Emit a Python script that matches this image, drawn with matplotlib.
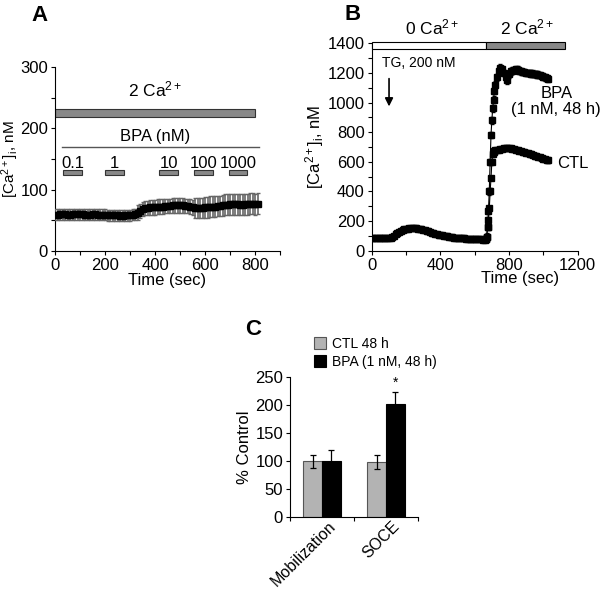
import numpy as np
import matplotlib
matplotlib.use("Agg")
import matplotlib.pyplot as plt
import matplotlib.transforms as mtransforms
from matplotlib.ticker import MultipleLocator, FixedLocator, NullFormatter

plt.rcParams["font.family"] = ["Liberation Sans", "DejaVu Sans"]
plt.rcParams["mathtext.fontset"] = "custom"
plt.rcParams["mathtext.rm"] = "Liberation Sans"
plt.rcParams["mathtext.it"] = "Liberation Sans:italic"

# ---- Panel A: BPA acute addition in 2 mM Ca ----
a_time = list(range(0, 820, 10))
a_mean = [59, 59, 60, 60, 60, 59, 59, 60, 60, 60,
          60, 60, 59, 59, 59, 60, 60, 59, 59, 59,
          59, 58, 58, 58, 58, 58, 57, 57, 58, 58,
          58, 59, 60, 62, 65, 68, 70, 70, 71, 71, 71,
          72, 72, 72, 73, 73, 73, 74, 74, 74, 74, 74, 73, 73, 72, 71,
          70, 70, 70, 70, 71, 71, 72, 72, 72, 73, 73, 74, 75,
          75, 76, 76, 76, 76, 75, 75, 76, 76, 77, 77, 76, 77]
a_err = [9] * 33 + [12] * 23 + [17] * 26
bpa_doses = ["0.1", "1", "10", "100", "1000"]
bpa_start = [33, 200, 417, 556, 695]
bpa_end = [107, 276, 493, 631, 769]

# ---- Panel B: TG store depletion then Ca re-addition ----
b_pre_time = list(range(0, 670, 10))
b_pre = [88, 88, 88, 88, 88, 88, 88, 88, 88, 88, 88, 88,
         92, 100, 110, 120, 128, 135, 140, 144, 147, 149,
         150, 151, 151, 151, 150, 149, 147, 144, 141, 138,
         134, 130, 126, 122, 118, 115, 112, 109, 106, 103,
         101, 99, 97, 95, 93, 91, 89, 88, 87, 86,
         85, 84, 83, 82, 81, 80, 79, 78, 78, 77,
         77, 76, 76, 75, 75]
b_post_time = [665, 670, 675, 680, 685, 690, 695, 700, 705, 710, 715, 720] + list(range(730, 1040, 10))
ctl_post = [80, 95, 160, 210, 285, 400, 490, 600, 650, 668, 675, 678,
            680, 682, 685, 688, 690, 692, 693, 692, 690, 688, 685, 682,
            678, 675, 672, 668, 665, 662, 658, 655, 650, 646, 642, 638,
            634, 630, 626, 622, 618, 614, 610]
bpa_post = [80, 95, 160, 270, 400, 600, 780, 880, 960, 1020, 1080, 1120,
            1170, 1210, 1235, 1225, 1200, 1170, 1150, 1190, 1210, 1215, 1220, 1225,
            1222, 1215, 1210, 1205, 1205, 1200, 1200, 1198, 1195, 1195, 1192, 1190,
            1188, 1185, 1180, 1175, 1170, 1165, 1160]
zero_ca_end = 667
two_ca_end = 1124

# ---- Panel C: summary ----
c_groups = ["Mobilization", "SOCE"]
c_ctl = [100, 99]
c_ctl_err = [11, 12]
c_bpa = [101, 202]
c_bpa_err = [20, 22]

fig = plt.figure(figsize=(6.0, 5.91), dpi=100)

def style_axes(ax):
    for side in ("top", "right"):
        ax.spines[side].set_visible(False)
    for side in ("left", "bottom"):
        ax.spines[side].set_linewidth(0.8)
    ax.tick_params(which="both", direction="out", length=3, width=0.8, labelsize=12, pad=2)

ca_label = r"[Ca$^{2+}$]$_{\mathregular{i}}$, nM"

# Panel A
axA = fig.add_axes([0.0917, 0.5758, 0.375, 0.3103])
style_axes(axA)
axA.errorbar(a_time, a_mean, yerr=a_err, fmt="s", color="black", ms=4,
             ecolor="#666666", elinewidth=1.2, capsize=1.5, zorder=3)
axA.set_xlim(0, 900)
axA.set_ylim(0, 300)
axA.xaxis.set_major_locator(FixedLocator([0, 200, 400, 600, 800]))
axA.xaxis.set_minor_locator(MultipleLocator(100))
axA.yaxis.set_major_locator(MultipleLocator(100))
axA.yaxis.set_minor_locator(MultipleLocator(50))
axA.set_xlabel("Time (sec)", fontsize=12, labelpad=0)
axA.set_ylabel(ca_label, fontsize=11)
axA.yaxis.set_label_coords(-0.15, 0.5)
axA.barh(224.5, 800, height=13, left=0, color="#888888", edgecolor="#333333", lw=0.8, zorder=2)
axA.text(400, 248, r"2 Ca$^{2+}$", ha="center", va="bottom", fontsize=12.5)
axA.text(400, 175, "BPA (nM)", ha="center", va="bottom", fontsize=12)
axA.plot([27, 817], [169, 169], color="#555555", lw=1)
for lab, s, e in zip(bpa_doses, bpa_start, bpa_end):
    axA.barh(127.5, e - s, height=8, left=s, color="#888888", edgecolor="#333333", lw=0.8)
    axA.text((s + e) / 2, 131, lab, ha="center", va="bottom", fontsize=12)
fig.text(0.053, 0.974, "A", fontsize=16, fontweight="bold", ha="left", va="center")

# Panel B
axB = fig.add_axes([0.6195, 0.5758, 0.3433, 0.351])
style_axes(axB)
pre_err = [4] * len(b_pre)
axB.errorbar(b_pre_time, b_pre, yerr=pre_err, fmt="s-", color="black", ms=4.5,
             lw=0.8, elinewidth=0.6, capsize=1.2, zorder=3)
axB.errorbar(b_post_time, ctl_post, yerr=[15] * len(ctl_post), fmt="s-", color="black",
             ms=4.5, lw=0.8, elinewidth=0.6, capsize=1.2, zorder=3)
axB.errorbar(b_post_time, bpa_post, yerr=[22] * len(bpa_post), fmt="s-", color="black",
             ms=4.5, lw=0.8, elinewidth=0.6, capsize=1.2, zorder=3)
axB.set_xlim(0, 1200)
axB.set_ylim(0, 1400)
axB.xaxis.set_major_locator(MultipleLocator(400))
axB.xaxis.set_minor_locator(MultipleLocator(200))
axB.yaxis.set_major_locator(MultipleLocator(200))
axB.yaxis.set_minor_locator(MultipleLocator(100))
axB.set_xlabel("Time (sec)", fontsize=12)
axB.xaxis.set_label_coords(0.72, -0.1)
axB.set_ylabel(ca_label, fontsize=12, labelpad=1)
axB.barh(1385, zero_ca_end, height=50, left=0, color="white", edgecolor="black",
         lw=0.8, clip_on=False, zorder=4)
axB.barh(1385, two_ca_end - zero_ca_end, height=50, left=zero_ca_end, color="#888888",
         edgecolor="black", lw=0.8, clip_on=False, zorder=4)
axB.text(350, 1440, r"0 Ca$^{2+}$", ha="center", va="bottom", fontsize=12.5)
axB.text(905, 1440, r"2 Ca$^{2+}$", ha="center", va="bottom", fontsize=12.5)
axB.text(58, 1268, "TG, 200 nM", ha="left", va="center", fontsize=10)
axB.annotate("", xy=(101, 955), xytext=(101, 1180),
             arrowprops=dict(arrowstyle="-|>", color="black", lw=1.2, mutation_scale=12))
axB.text(1075, 1063, "BPA", ha="center", va="center", fontsize=12)
axB.text(1075, 950, "(1 nM, 48 h)", ha="center", va="center", fontsize=12)
axB.text(1080, 590, "CTL", ha="left", va="center", fontsize=12)
fig.text(0.575, 0.975, "B", fontsize=16, fontweight="bold", ha="left", va="center")

# Panel C
axC = fig.add_axes([0.4833, 0.1244, 0.2133, 0.2369])
style_axes(axC)
x = np.arange(len(c_groups))
w = 0.29
axC.bar(x - w / 2, c_ctl, width=w, yerr=c_ctl_err, color="#b3b3b3", edgecolor="#555555",
        lw=0.8, capsize=2.5, error_kw=dict(elinewidth=0.9, capthick=0.9), label="CTL 48 h")
axC.bar(x + w / 2, c_bpa, width=w, yerr=c_bpa_err, color="black", edgecolor="black",
        lw=0.8, capsize=2.5, error_kw=dict(elinewidth=0.9, capthick=0.9),
        label="BPA (1 nM, 48 h)")
axC.text(x[1] + w / 2, c_bpa[1] + c_bpa_err[1] + 4, "*", ha="center", va="bottom", fontsize=10)
axC.set_xlim(-0.5, 1.5)
axC.set_ylim(0, 250)
axC.yaxis.set_major_locator(MultipleLocator(50))
axC.set_xticks(x)
axC.set_xticklabels(c_groups, rotation=45, ha="right", rotation_mode="anchor", fontsize=11.5)
axC.tick_params(axis="x", which="major", length=0, pad=1)
shift = mtransforms.ScaledTranslation(6 / 100, 0, fig.dpi_scale_trans)
for lab in axC.get_xticklabels():
    lab.set_transform(lab.get_transform() + shift)
axC.xaxis.set_minor_locator(FixedLocator([-0.5, 0.5, 1.5]))
axC.xaxis.set_minor_formatter(NullFormatter())
axC.set_ylabel("% Control", fontsize=12, labelpad=2)
handles, labels = axC.get_legend_handles_labels()
fig.legend(handles=handles, labels=labels,
           loc="upper left", bbox_to_anchor=(0.523, 0.43), frameon=False, fontsize=10,
           handlelength=0.9, handleheight=1.0, handletextpad=0.4, labelspacing=0.3,
           borderaxespad=0, borderpad=0)
fig.text(0.408, 0.443, "C", fontsize=16, fontweight="bold", ha="left", va="center")

fig.savefig("out.png", dpi=100)
